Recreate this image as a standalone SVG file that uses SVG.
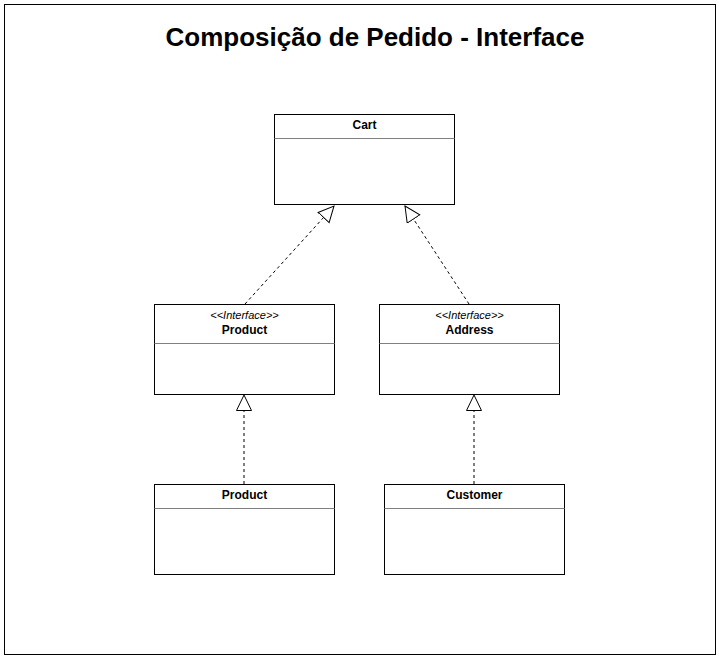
<svg xmlns="http://www.w3.org/2000/svg" width="719" height="659" viewBox="0 0 719 659">
<style>
.box{fill:#fff;stroke:#000;stroke-width:1}
.sep{stroke:#808080;stroke-width:1}
.name{font-family:"Liberation Sans",Arial,sans-serif;font-size:12px;font-weight:bold;text-anchor:middle;fill:#000}
.st{font-family:"Liberation Sans",Arial,sans-serif;font-size:11px;font-style:italic;text-anchor:middle;fill:#000}
.title{font-family:"Liberation Sans",Arial,sans-serif;font-size:26px;font-weight:bold;text-anchor:middle;fill:#000}
.edge{fill:none;stroke:#000;stroke-width:1;stroke-dasharray:3 3}
</style>
<defs>
<marker id="tri" markerUnits="userSpaceOnUse" markerWidth="20" markerHeight="20" refX="16" refY="8" orient="auto">
<path d="M0.5,0.5 L16,8 L0.5,15.5 Z" fill="#fff" stroke="#000" stroke-width="1"/>
</marker>
</defs>
<rect x="4.5" y="4.5" width="711" height="650" fill="#fff" stroke="#000" stroke-width="1"/>
<text class="title" x="375" y="46">Composição de Pedido - Interface</text>
<g id="connectors">
<line class="edge" x1="245" y1="304" x2="334" y2="206" marker-end="url(#tri)"/>
<line class="edge" x1="469" y1="304" x2="405" y2="206" marker-end="url(#tri)"/>
<line class="edge" x1="244" y1="484" x2="244" y2="395" marker-end="url(#tri)"/>
<line class="edge" x1="474" y1="484" x2="474" y2="395" marker-end="url(#tri)"/>
</g>
<g id="cart">
<rect class="box" x="274.5" y="114.5" width="180" height="90"/>
<line class="sep" x1="274.5" y1="138.5" x2="454.5" y2="138.5"/>
<text class="name" x="364.5" y="129">Cart</text>
</g>
<g id="iproduct">
<rect class="box" x="154.5" y="304.5" width="180" height="90"/>
<line class="sep" x1="154.5" y1="343.5" x2="334.5" y2="343.5"/>
<text class="st" x="244.5" y="318.5">&lt;&lt;Interface&gt;&gt;</text>
<text class="name" x="244.5" y="333.5">Product</text>
</g>
<g id="iaddress">
<rect class="box" x="379.5" y="304.5" width="180" height="90"/>
<line class="sep" x1="379.5" y1="343.5" x2="559.5" y2="343.5"/>
<text class="st" x="469.5" y="318.5">&lt;&lt;Interface&gt;&gt;</text>
<text class="name" x="469.5" y="333.5">Address</text>
</g>
<g id="product">
<rect class="box" x="154.5" y="484.5" width="180" height="90"/>
<line class="sep" x1="154.5" y1="508.5" x2="334.5" y2="508.5"/>
<text class="name" x="244.5" y="499">Product</text>
</g>
<g id="customer">
<rect class="box" x="384.5" y="484.5" width="180" height="90"/>
<line class="sep" x1="384.5" y1="508.5" x2="564.5" y2="508.5"/>
<text class="name" x="474.5" y="499">Customer</text>
</g>
</svg>
